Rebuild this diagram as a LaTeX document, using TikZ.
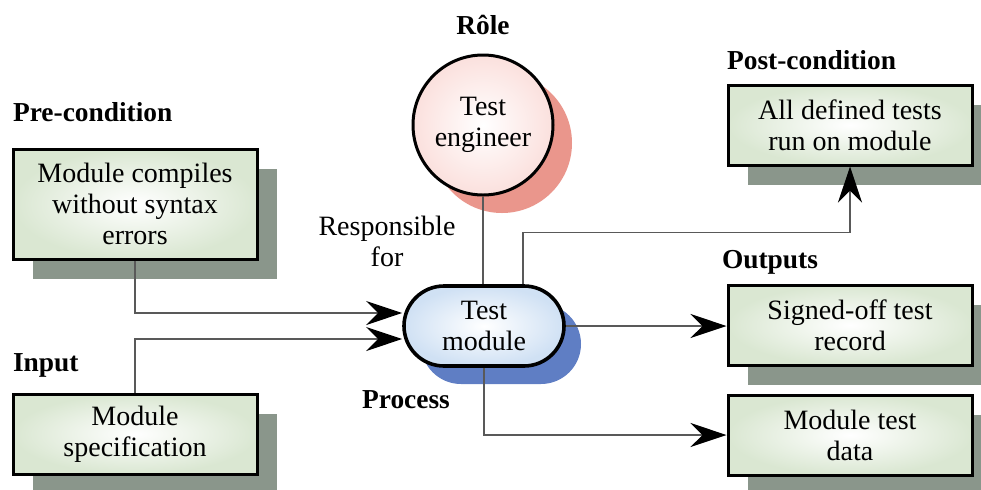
\documentclass[tikz,border=0pt]{standalone}
\usepackage{fontspec}
\setmainfont{LiberationSerif}[Extension=.ttf, UprightFont=*-Regular, BoldFont=*-Bold, ItalicFont=*-Italic, BoldItalicFont=*-BoldItalic]
\usepackage{tikz}
\usetikzlibrary{arrows.meta,shapes,shadows,positioning,calc}
\usepackage{xcolor}

\definecolor{boxgreen}{RGB}{218,231,210}
\definecolor{boxshade}{RGB}{138,150,139}
\definecolor{rolefill}{RGB}{251,224,221}
\definecolor{roleshade}{RGB}{234,150,140}
\definecolor{procfill}{RGB}{208,225,244}
\definecolor{procshade}{RGB}{95,126,196}

\tikzset{
  txt/.style={font=\fontsize{14}{15.5}\selectfont, align=center},
  head/.style={font=\fontsize{13.7}{15.5}\selectfont\bfseries},
  infobox/.style={txt, rectangle, draw=black, line width=1.5pt, minimum width=122pt,
    inner color=white, outer color=boxgreen,
    drop shadow={shadow xshift=10pt, shadow yshift=-10pt, opacity=1, fill=boxshade}},
  rolebox/.style={txt, circle, draw=black, line width=1.5pt, minimum size=70pt,
    inner color=white, outer color=rolefill,
    drop shadow={shadow xshift=9.5pt, shadow yshift=-9pt, opacity=1, fill=roleshade}},
  procbox/.style={txt, rectangle, rounded corners=20pt, draw=black, line width=1.8pt,
    minimum width=80pt, minimum height=40pt,
    inner color=white, outer color=procfill,
    drop shadow={shadow xshift=8.5pt, shadow yshift=-9pt, opacity=1, fill=procshade}},
  flow/.style={draw=black!65, line width=0.6pt,
    -{Stealth[length=18pt, width=12pt, inset=6pt, black]}},
  link/.style={draw=black!65, line width=0.6pt}
}

\begin{document}
\begin{tikzpicture}[x=0.5pt, y=-0.5pt]
\useasboundingbox (0,0) rectangle (981,489);

% role and process
\node (role) [rolebox] at (483,125) {Test\\engineer};
\node (module) [procbox] at (484,326) {Test\\module};

% input side
\node (pre) [infobox, minimum height=55pt] at (135,204) {Module compiles\\without syntax\\errors};
\node (inp) [infobox, minimum height=40pt] at (135,434) {Module\\specification};

% output side
\node (post) [infobox, minimum height=40pt] at (850,125) {All defined tests\\run on module};
\node (signed) [infobox, minimum height=40pt] at (850,325) {Signed-off test\\record};
\node (mdata) [infobox, minimum height=40pt] at (850,435) {Module test\\data};

% headings
\node (rolehd) [head] at (483,25) {Rôle};
\node (prehd) [head, anchor=west] at (6,112) {Pre-condition};
\node (inphd) [head, anchor=west] at (6,365) {Input};
\node (prochd) [head] at (406,400) {Process};
\node (posthd) [head, anchor=west] at (720,60) {Post-condition};
\node (outhd) [head, anchor=west] at (715,262) {Outputs};
\node (resp) [txt] at (387,241) {Responsible\\for};

% connectors
\draw [link] (role.south) -- (module.north -| role.south);
\draw [flow] (pre.south) |- ([yshift=6.5pt]module.west);
\draw [flow] (inp.north) |- ([yshift=-6.5pt]module.west);
\draw [flow] ([xshift=19.5pt]module.north) -- ++(0,-52) -| (post.south);
\draw [flow] (module.east) -- (signed.west |- module.east);
\draw [flow] (module.south) |- (mdata.west);
\end{tikzpicture}
\end{document}
